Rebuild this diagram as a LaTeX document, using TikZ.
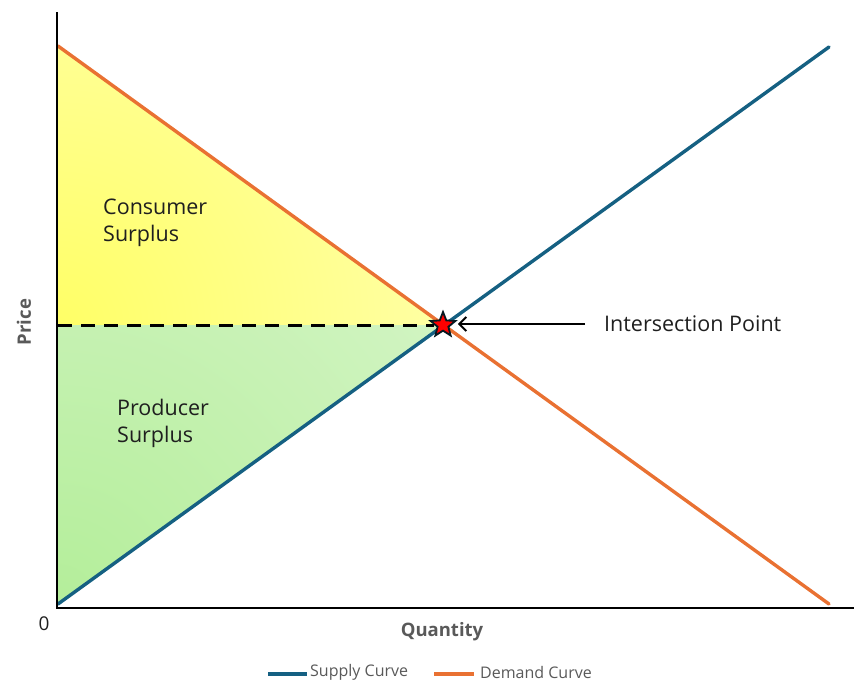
\documentclass[tikz,border=0pt]{standalone}
\usepackage{fontspec}
\setmainfont{Open Sans}
\usetikzlibrary{shapes.geometric,arrows.meta}
\definecolor{supplyblue}{HTML}{156082}
\definecolor{demandorange}{HTML}{E97132}
\definecolor{axisgray}{HTML}{595959}
\definecolor{textdark}{HTML}{1F1F1F}
\definecolor{surplusyellow}{HTML}{FFFF66}
\definecolor{paleyellow}{HTML}{FFFFE2}
\definecolor{surplusgreen}{HTML}{B4EE9A}
\definecolor{palegreen}{HTML}{EFFAEB}
\tikzset{
  axisline/.style={line width=2.4pt, black},
  curve/.style={line width=3.4pt, line cap=round},
  areatext/.style={font=\fontsize{21.5}{27}\selectfont, text=textdark, align=left, anchor=north west, inner sep=0pt},
  axislabel/.style={font=\fontsize{18.5}{22}\selectfont\bfseries, text=axisgray, inner sep=0pt},
  legendtext/.style={font=\fontsize{16}{19}\selectfont, text=axisgray, anchor=west, inner sep=0pt},
}
\begin{document}
\begin{tikzpicture}[x=1pt, y=-1pt]
\useasboundingbox (0,0) rectangle (854,683);

% surplus areas with soft radial fills
\begin{scope}
  \clip (57,46) -- (57,325) -- (443,325) -- cycle;
  \shade[inner color=surplusyellow, outer color=paleyellow] (57,325) circle (780);
\end{scope}
\begin{scope}
  \clip (57,325) -- (57,604) -- (443,325) -- cycle;
  \shade[inner color=surplusgreen, outer color=palegreen] (57,604) circle (960);
\end{scope}

% demand and supply curves
\coordinate (d0) at (58,46);
\coordinate (d1) at (829,604);
\coordinate (s0) at (58,604);
\coordinate (s1) at (829,47);
\draw[curve, demandorange] (d0) -- (d1);
\draw[curve, supplyblue] (s0) -- (s1);

% axes
\coordinate (yt) at (57,12);
\coordinate (o) at (57,608);
\coordinate (xr) at (854,608);
\draw[axisline] (yt) -- (o) -- (xr);

% equilibrium marker and price line
\node[star, star points=5, star point ratio=2.3, minimum size=26pt, inner sep=0pt,
      fill=red, draw=black!75!supplyblue, line width=1.8pt] (eq) at (443,325) {};
\coordinate (py) at (58,325);
\draw[line width=3pt, dash pattern=on 14pt off 9pt] (py) -- (eq.west);

\node[font=\fontsize{21.5}{24}\selectfont, text=textdark, anchor=west, inner sep=0pt] (ip) at (604,324) {Intersection Point};
\draw[line width=2pt, -{Straight Barb[length=7pt, width=14pt, line width=2pt]}]
  ([xshift=-19pt]ip.west) -- ([xshift=6pt]ip.west -| eq.east);

% area labels
\node[areatext] (cs) at (103,199) {Consumer\\Surplus};
\node[areatext] (ps) at (117,399) {Producer\\Surplus};

% axis labels
\node[font=\fontsize{19}{22}\selectfont, text=textdark, inner sep=0pt] (zero) at (44,624) {0};
\node[axislabel] (qty) at (442,632) {Quantity};
\node[axislabel, rotate=90] (price) at (24,322) {Price};

% legend
\coordinate (ls0) at (268,674);
\coordinate (ls1) at (307,674);
\draw[curve, supplyblue, line cap=butt] (ls0) -- (ls1);
\node[legendtext] (lsupply) at (310,672) {Supply Curve};
\coordinate (ld0) at (434,674);
\coordinate (ld1) at (474,674);
\draw[curve, demandorange, line cap=butt] (ld0) -- (ld1);
\node[legendtext] (ldemand) at (480,672) {Demand Curve};
\end{tikzpicture}
\end{document}
